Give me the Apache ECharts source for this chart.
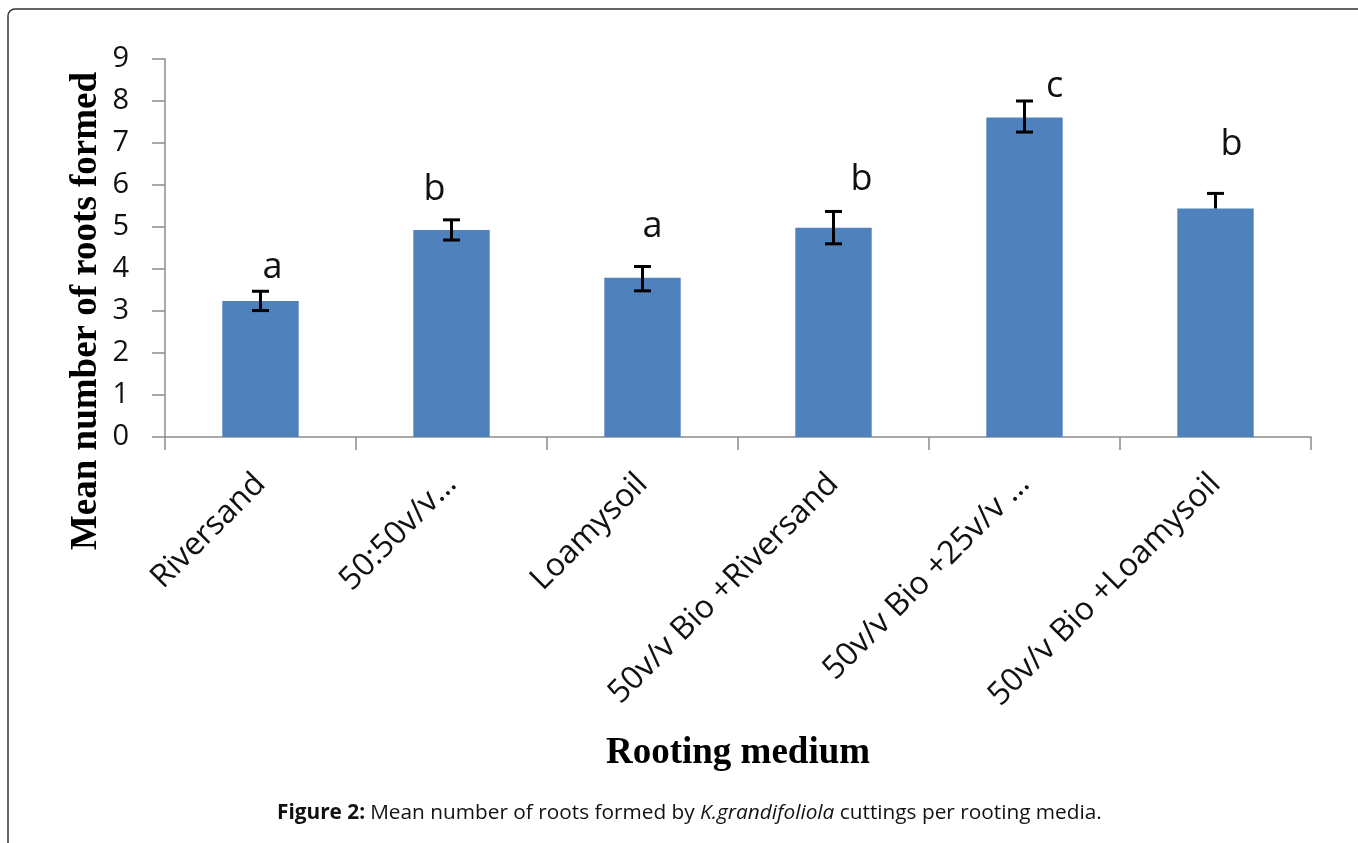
<!DOCTYPE html>
<html>
<head>
<meta charset="utf-8">
<script src="https://cdn.jsdelivr.net/npm/echarts@6/dist/echarts.min.js"></script>
<style>
  html, body { margin: 0; padding: 0; background: #fff; }
  #chart { width: 1358px; height: 843px; }
</style>
</head>
<body>
<div id="chart"></div>
<script>
// Rooting media and mean root counts with standard errors
const categories = ['Riversand', '50:50v/v…', 'Loamysoil', '50v/v Bio +Riversand', '50v/v Bio +25v/v …', '50v/v Bio +Loamysoil'];
const means = [3.24, 4.93, 3.79, 4.98, 7.61, 5.44];
const errPlus = [0.23, 0.24, 0.27, 0.39, 0.39, 0.36];
const errMinus = [0.23, 0.24, 0.31, 0.38, 0.35, 0];
const groupLetters = ['a', 'b', 'a', 'b', 'c', 'b'];
const yTicks = [0, 1, 2, 3, 4, 5, 6, 7, 8, 9];

// pixel nudges for the significance letters, relative to the top of each error bar
const letterNudge = [[12, -24], [-17, -30], [10, -40], [28, -32], [30, -14], [16, -49]];

const errData = categories.map((c, i) => [i, means[i] - errMinus[i], means[i] + errPlus[i], means[i]]);
const letterData = categories.map((c, i) => [i, means[i] + errPlus[i]]);

const chart = echarts.init(document.getElementById('chart'), null, { renderer: 'canvas' });
const axisGray = '#8c8c8c';
const tickFont = '"Open Sans", sans-serif';
const titleFont = '"Liberation Serif", serif';

chart.setOption({
  backgroundColor: '#ffffff',
  animation: false,
  title: {
    left: 272,
    top: 798,
    text: '{b|Figure 2:} {n|Mean number of roots formed by }{i|K.grandifoliola}{n| cuttings per rooting media.}',
    textStyle: {
      fontWeight: 'normal',
      rich: {
        b: { fontFamily: tickFont, fontWeight: 'bold', fontSize: 20.8, color: '#111' },
        n: { fontFamily: tickFont, fontWeight: 'normal', fontSize: 20.8, color: '#111' },
        i: { fontFamily: tickFont, fontWeight: 'normal', fontStyle: 'italic', fontSize: 20.8, color: '#111' }
      }
    }
  },
  graphic: [
    {
      type: 'rect',
      silent: true,
      shape: { x: 8, y: 9, width: 1420, height: 900, r: 7 },
      style: { fill: 'none', stroke: '#333', lineWidth: 1.5 }
    },
    {
      // vertical axis title
      type: 'text',
      silent: true,
      x: 86,
      y: 311,
      rotation: Math.PI / 2,
      style: {
        text: 'Mean number of roots formed',
        fontFamily: titleFont,
        fontWeight: 'bold',
        fontSize: 37,
        fill: '#000',
        align: 'center',
        verticalAlign: 'middle'
      }
    }
  ],
  grid: { left: 165, right: 47, top: 59, bottom: 406, containLabel: false },
  xAxis: {
    type: 'category',
    data: categories,
    boundaryGap: true,
    name: 'Rooting medium',
    nameLocation: 'middle',
    nameGap: 298,
    nameTextStyle: { fontFamily: titleFont, fontWeight: 'bold', fontSize: 37, color: '#000' },
    axisLine: { lineStyle: { color: axisGray, width: 1.5 } },
    axisTick: { show: true, alignWithLabel: false, length: 13, lineStyle: { color: axisGray, width: 1.5 } },
    axisLabel: { rotate: 45, margin: 42, fontFamily: tickFont, fontSize: 32, color: '#111', interval: 0 }
  },
  yAxis: {
    type: 'value',
    min: 0,
    max: 9,
    interval: 1,
    axisLine: { show: true, lineStyle: { color: axisGray, width: 1.5 } },
    axisTick: { show: true, length: 13, lineStyle: { color: axisGray, width: 1.5 } },
    axisLabel: { margin: 36, fontFamily: tickFont, fontSize: 29, color: '#111',
      formatter: v => yTicks.includes(v) ? String(v) : '' },
    splitLine: { show: false }
  },
  series: [
    {
      type: 'bar',
      data: means,
      barWidth: '40%',
      itemStyle: { color: '#4f81bd' },
      z: 2
    },
    {
      type: 'custom',
      data: errData,
      z: 3,
      renderItem: function (params, api) {
        const i = api.value(0);
        const lo = api.coord([i, api.value(1)]);
        const hi = api.coord([i, api.value(2)]);
        const mid = api.coord([i, api.value(3)]);
        const half = 8.5;
        const st = { stroke: '#000', lineWidth: 3 };
        const children = [
          { type: 'line', shape: { x1: hi[0], y1: hi[1], x2: lo[0], y2: lo[1] }, style: st },
          { type: 'line', shape: { x1: hi[0] - half, y1: hi[1], x2: hi[0] + half, y2: hi[1] }, style: st }
        ];
        if (Math.abs(lo[1] - mid[1]) > 0.5) {
          children.push({ type: 'line', shape: { x1: lo[0] - half, y1: lo[1], x2: lo[0] + half, y2: lo[1] }, style: st });
        }
        return { type: 'group', children: children };
      }
    },
    {
      type: 'custom',
      data: letterData,
      z: 4,
      renderItem: function (params, api) {
        const i = api.value(0);
        const p = api.coord([i, api.value(1)]);
        const nudge = letterNudge[i];
        return {
          type: 'text',
          x: p[0] + nudge[0],
          y: p[1] + nudge[1],
          style: {
            text: groupLetters[i],
            fontFamily: tickFont,
            fontSize: 36,
            fill: '#111',
            align: 'center',
            verticalAlign: 'middle'
          }
        };
      }
    }
  ]
});
</script>
</body>
</html>
